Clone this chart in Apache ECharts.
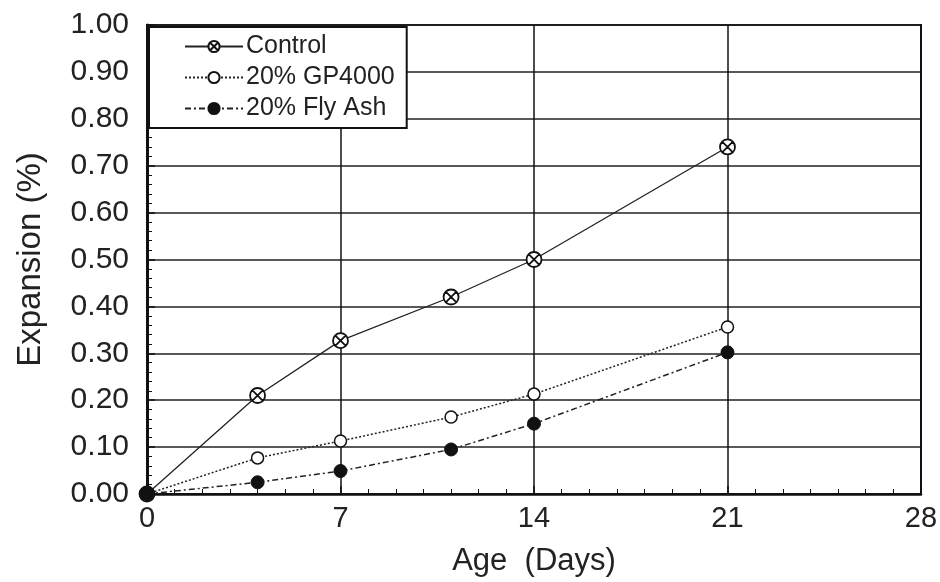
<!DOCTYPE html>
<html>
<head>
<meta charset="utf-8">
<script src="https://cdn.jsdelivr.net/npm/echarts@6/dist/echarts.min.js"></script>
<style>html,body{margin:0;padding:0;background:#fff}#container{width:940px;height:582px}</style>
</head>
<body>
<div id="container"></div>
<script>
var days = [0, 4, 7, 11, 14, 21];
var control = [0, 0.21, 0.327, 0.42, 0.50, 0.74];
var gp4000 = [0, 0.077, 0.113, 0.164, 0.213, 0.356];
var flyAsh = [0, 0.025, 0.049, 0.095, 0.15, 0.302];
var seriesNames = ['Control', '20% GP4000', '20% Fly Ash'];

function pairs(ys) {
    return ys.map(function (y, i) { return [days[i], y]; });
}

// circle with an X through it, like the control marker
var crossCircle = 'path://M0,5 A5,5 0 1,1 10,5 A5,5 0 1,1 0,5 Z M1.6,1.6 L8.4,8.4 M8.4,1.6 L1.6,8.4';

var dom = document.getElementById('container');
var myChart = echarts.init(dom);
var font = 'Liberation Sans, Arial, sans-serif';

var option = {
    animation: false,
    backgroundColor: '#fff',
    grid: {left: 147, right: 19, top: 25, bottom: 88, outerBoundsMode: 'none',
        show: true, borderColor: '#111', borderWidth: 2, backgroundColor: 'transparent'},
    legend: {
        left: 149, top: 27, orient: 'vertical', itemGap: 6, itemWidth: 58, itemHeight: 14,
        padding: [7, 12, 7, 35],
        backgroundColor: '#fff', borderColor: '#111', borderWidth: 2,
        textStyle: {fontFamily: font, fontSize: 25, color: '#222', padding: [0, 0, 0, -2]},
        data: seriesNames
    },
    xAxis: {
        type: 'value', min: 0, max: 28, interval: 7,
        name: 'Age  (Days)', nameLocation: 'middle', nameGap: 52,
        nameTextStyle: {fontFamily: font, fontSize: 31, color: '#222'},
        axisLine: {lineStyle: {color: '#111', width: 2.5}},
        axisTick: {inside: true, length: 8, lineStyle: {color: '#111', width: 1.5}},
        minorTick: {show: true, splitNumber: 7, length: 5, lineStyle: {color: '#111'}},
        axisLabel: {fontFamily: font, fontSize: 29, color: '#222', margin: 10},
        splitLine: {show: true, lineStyle: {color: '#111', width: 1.5}}
    },
    yAxis: {
        type: 'value', min: 0, max: 1, interval: 0.1,
        name: 'Expansion (%)', nameLocation: 'middle', nameGap: 100,
        nameTextStyle: {fontFamily: font, fontSize: 33, color: '#222'},
        axisLine: {lineStyle: {color: '#111', width: 3}},
        axisTick: {inside: true, length: 8, lineStyle: {color: '#111', width: 1.5}},
        minorTick: {show: true, splitNumber: 5, length: 5, lineStyle: {color: '#111'}},
        axisLabel: {fontFamily: font, fontSize: 30, color: '#222', margin: 18,
            formatter: function (v) { return v.toFixed(2); }},
        splitLine: {show: true, lineStyle: {color: '#222', width: 1.5}}
    },
    series: [
        {
            name: seriesNames[0], type: 'line', data: pairs(control),
            symbol: crossCircle, symbolSize: 15,
            itemStyle: {color: '#fff', borderColor: '#111', borderWidth: 1.8},
            lineStyle: {color: '#222', width: 1.3, type: 'solid'}
        },
        {
            name: seriesNames[1], type: 'line', data: pairs(gp4000),
            symbol: 'circle', symbolSize: 12,
            itemStyle: {color: '#fff', borderColor: '#111', borderWidth: 1.5},
            lineStyle: {color: '#222', width: 1.5, type: [2, 2]}
        },
        {
            name: seriesNames[2], type: 'line', data: pairs(flyAsh),
            symbol: 'circle', symbolSize: 13,
            itemStyle: {color: '#111', borderColor: '#111', borderWidth: 1},
            lineStyle: {color: '#222', width: 1.5, type: [6, 3, 2, 3]}
        }
    ]
};

myChart.setOption(option);
</script>
</body>
</html>
